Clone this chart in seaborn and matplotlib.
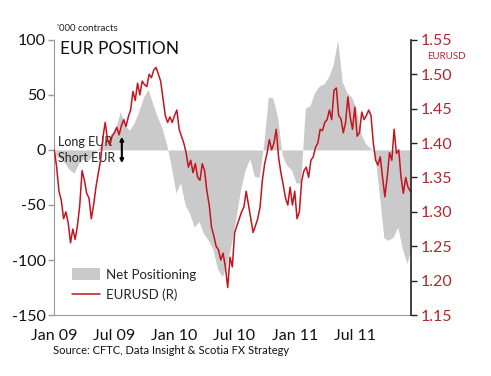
import pandas as pd
import matplotlib.pyplot as plt
import matplotlib.dates as mdates
from matplotlib.patches import Patch
from matplotlib.lines import Line2D
import seaborn as sns

# EURUSD, weekly closes (right axis)
fx_values = [
    1.39, 1.365, 1.33, 1.317, 1.29, 1.30, 1.284, 1.255, 1.275, 1.26,
    1.28, 1.31, 1.36, 1.346, 1.327, 1.32, 1.29, 1.31, 1.336, 1.356,
    1.375, 1.408, 1.43, 1.405, 1.397, 1.41, 1.415, 1.423, 1.412, 1.425,
    1.434, 1.424, 1.438, 1.448, 1.475, 1.462, 1.487, 1.47, 1.49, 1.485,
    1.482, 1.50, 1.495, 1.506, 1.51, 1.50, 1.49, 1.465, 1.44, 1.43,
    1.438, 1.43, 1.44, 1.448, 1.42, 1.41, 1.40, 1.386, 1.365, 1.375,
    1.357, 1.37, 1.35, 1.346, 1.37, 1.36, 1.33, 1.31, 1.278, 1.265,
    1.25, 1.245, 1.23, 1.24, 1.22, 1.19, 1.234, 1.22, 1.27, 1.28,
    1.29, 1.30, 1.307, 1.33, 1.31, 1.29, 1.27, 1.28, 1.29, 1.307,
    1.346, 1.37, 1.385, 1.405, 1.39, 1.40, 1.42, 1.38, 1.357, 1.34,
    1.32, 1.31, 1.336, 1.31, 1.33, 1.29, 1.30, 1.345, 1.36, 1.365,
    1.35, 1.375, 1.38, 1.394, 1.40, 1.42, 1.418, 1.43, 1.434, 1.448,
    1.434, 1.477, 1.48, 1.44, 1.435, 1.415, 1.43, 1.467, 1.438, 1.42,
    1.452, 1.41, 1.415, 1.445, 1.434, 1.44, 1.448, 1.44, 1.40, 1.375,
    1.368, 1.38, 1.35, 1.322, 1.35, 1.386, 1.375, 1.42, 1.385, 1.39,
    1.35, 1.327, 1.35, 1.336, 1.33,
]

# CFTC net positioning, '000 contracts, fortnightly (left axis)
pos_values = [
    -5, -8, -12, -18, -21, -12, -8, -10, -5, 0,
    5, 10, 15, 20, 35, 22, 18, 25, 35, 48,
    55, 42, 30, 20, 5, -15, -39, -30, -50, -58,
    -70, -65, -76, -82, -90, -108, -115, -105, -85, -62,
    -36, -18, -8, -24, -25, 5, 48, 47, 30, -5,
    -14, -18, -30, -30, 38, 40, 52, 58, 60, 66,
    77, 100, 62, 52, 48, 38, 15, 6, 2, -3,
    -40, -80, -82, -79, -70, -90, -103, -88,
]

fx_dates = pd.date_range('2009-01-02', periods=len(fx_values), freq='7D')
pos_dates = pd.date_range('2009-01-06', periods=len(pos_values), freq='14D')

left_ticks = [-150, -100, -50, 0, 50, 100]
right_ticks = [1.15, 1.20, 1.25, 1.30, 1.35, 1.40, 1.45, 1.50, 1.55]

sns.set_style('white')
plt.rcParams['font.family'] = ['Lato', 'DejaVu Sans']
plt.rcParams['axes.unicode_minus'] = False

gray = '#cacaca'
red = '#c3141f'
dark_red = '#b3262c'

fig = plt.figure(figsize=(4.91, 3.76), dpi=100)
ax = fig.add_axes([0.110, 0.162, 0.727, 0.732])
ax2 = ax.twinx()

ax.fill_between(pos_dates, pos_values, 0, color=gray, lw=0)
sns.lineplot(x=fx_dates, y=fx_values, ax=ax2, color=red, lw=1.1)

ax.set_ylim(-150, 100)
ax.set_yticks(left_ticks)
ax2.set_ylim(1.15, 1.55)
ax2.set_yticks(right_ticks)
ax2.set_yticklabels([f'{v:.2f}' for v in right_ticks])
ax.set_xlim(pd.Timestamp('2009-01-01'), pd.Timestamp('2011-12-18'))

ax.xaxis.set_major_locator(mdates.MonthLocator(bymonth=[1, 7]))
ax.xaxis.set_major_formatter(mdates.DateFormatter('%b %y'))

for a in (ax, ax2):
    for s in a.spines.values():
        s.set_visible(False)
ax.spines['left'].set_visible(True)
ax.spines['bottom'].set_visible(True)
ax.spines['left'].set_color('#9a9a9a')
ax.spines['bottom'].set_color('#9a9a9a')
ax2.spines['right'].set_visible(True)
ax2.spines['right'].set_color('#222222')
ax2.spines['right'].set_linewidth(1.2)

ax.tick_params(axis='both', direction='out', length=4, width=1, color='#9a9a9a',
               labelsize=11.5, labelcolor='#111111', pad=2)
ax.tick_params(axis='x', pad=6)
ax2.tick_params(axis='y', direction='out', length=4, width=1, color='#222222',
                labelsize=11.5, labelcolor=dark_red, pad=3)
ax.set_xlabel('')
ax.set_ylabel('')
ax2.set_xlabel('')
ax2.set_ylabel('')

ax.text(0.017, 0.967, 'EUR POSITION', transform=ax.transAxes, fontsize=12.5,
        va='center', ha='left', color='#111111')
ax.text(0.011, 0.629, 'Long EUR', transform=ax.transAxes, fontsize=9,
        va='center', ha='left', color='#222222')
ax.text(0.011, 0.571, 'Short EUR', transform=ax.transAxes, fontsize=9,
        va='center', ha='left', color='#222222')
ax.annotate('', xy=(0.19, 0.648), xytext=(0.19, 0.552), xycoords='axes fraction',
            arrowprops=dict(arrowstyle='<|-|>', color='black', lw=1.5,
                            mutation_scale=5, shrinkA=0, shrinkB=0))

fig.text(0.116, 0.923, "'000 contracts", fontsize=7, va='center', ha='left', color='#222222')
fig.text(0.870, 0.851, 'EURUSD', fontsize=7, va='center', ha='left', color=dark_red)
fig.text(0.108, 0.069, 'Source: CFTC, Data Insight & Scotia FX Strategy', fontsize=8,
         va='center', ha='left', color='#111111')

handles = [Patch(facecolor=gray, edgecolor='none'), Line2D([0], [0], color=red, lw=1.1)]
ax2.legend(handles, ['Net Positioning', 'EURUSD (R)'], loc='lower left',
           bbox_to_anchor=(0.05, 0.05), frameon=False, fontsize=9.5,
           handlelength=2.1, handleheight=1.1, handletextpad=0.5,
           labelspacing=0.6, borderpad=0, borderaxespad=0)

fig.savefig('out.png', dpi=100)
